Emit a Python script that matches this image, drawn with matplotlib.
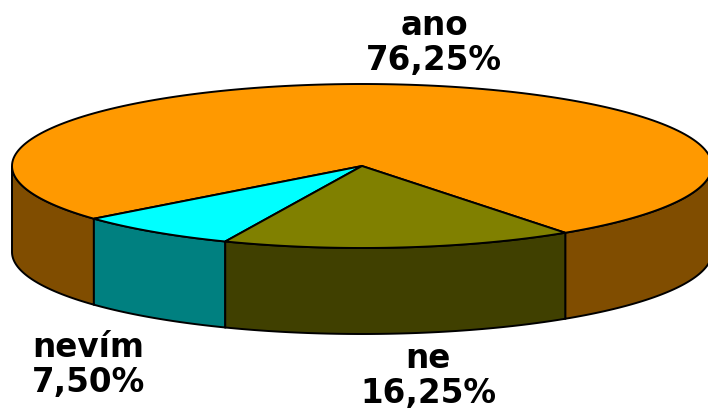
import numpy as np
import matplotlib
matplotlib.use("Agg")
import matplotlib.pyplot as plt
from matplotlib.patches import Polygon

labels = ["ano", "nevím", "ne"]
shares = [76.25, 7.50, 16.25]
percent_text = ["76,25%", "7,50%", "16,25%"]
top_colors = ["#FF9900", "#00FFFF", "#808000"]
side_colors = ["#804D00", "#008080", "#404000"]
label_pos = [(434, 43), (88, 365), (428, 376)]

START = -54.5
CX, CY, RX, RY, DEPTH = 362, 166, 350, 82, 86


def rim(a0, a1):
    t = np.radians(np.linspace(a0, a1, 200))
    return CX + RX * np.cos(t), CY - RY * np.sin(t)


fig = plt.figure(figsize=(7.08, 4.12), dpi=100)
ax = fig.add_axes([0, 0, 1, 1])
ax.set_xlim(0, 708)
ax.set_ylim(412, 0)
ax.axis("off")

edges = START + np.concatenate([[0], np.cumsum(shares)]) * 3.6

# walls first, only the front half of the rim shows
for i in range(len(shares)):
    a0, a1 = edges[i], edges[i + 1]
    pieces = [(a0, min(a1, 0)), (max(a0, 180), a1)]
    for b0, b1 in pieces:
        if b1 <= b0:
            continue
        x, y = rim(b0, b1)
        pts = np.r_[np.c_[x, y], np.c_[x, y + DEPTH][::-1]]
        ax.add_patch(Polygon(pts, fc=side_colors[i], ec="black", lw=1.4, joinstyle="miter"))

# top slices
for i in range(len(shares)):
    x, y = rim(edges[i], edges[i + 1])
    pts = np.r_[[[CX, CY]], np.c_[x, y]]
    ax.add_patch(Polygon(pts, fc=top_colors[i], ec="black", lw=1.4, joinstyle="miter"))

for lab, pct, (px, py) in zip(labels, percent_text, label_pos):
    ax.text(px, py, f"{lab}\n{pct}", ha="center", va="center", fontsize=23.5,
            fontweight="bold", family="DejaVu Sans", color="black", linespacing=1.07)

fig.savefig("out.png", dpi=100)
